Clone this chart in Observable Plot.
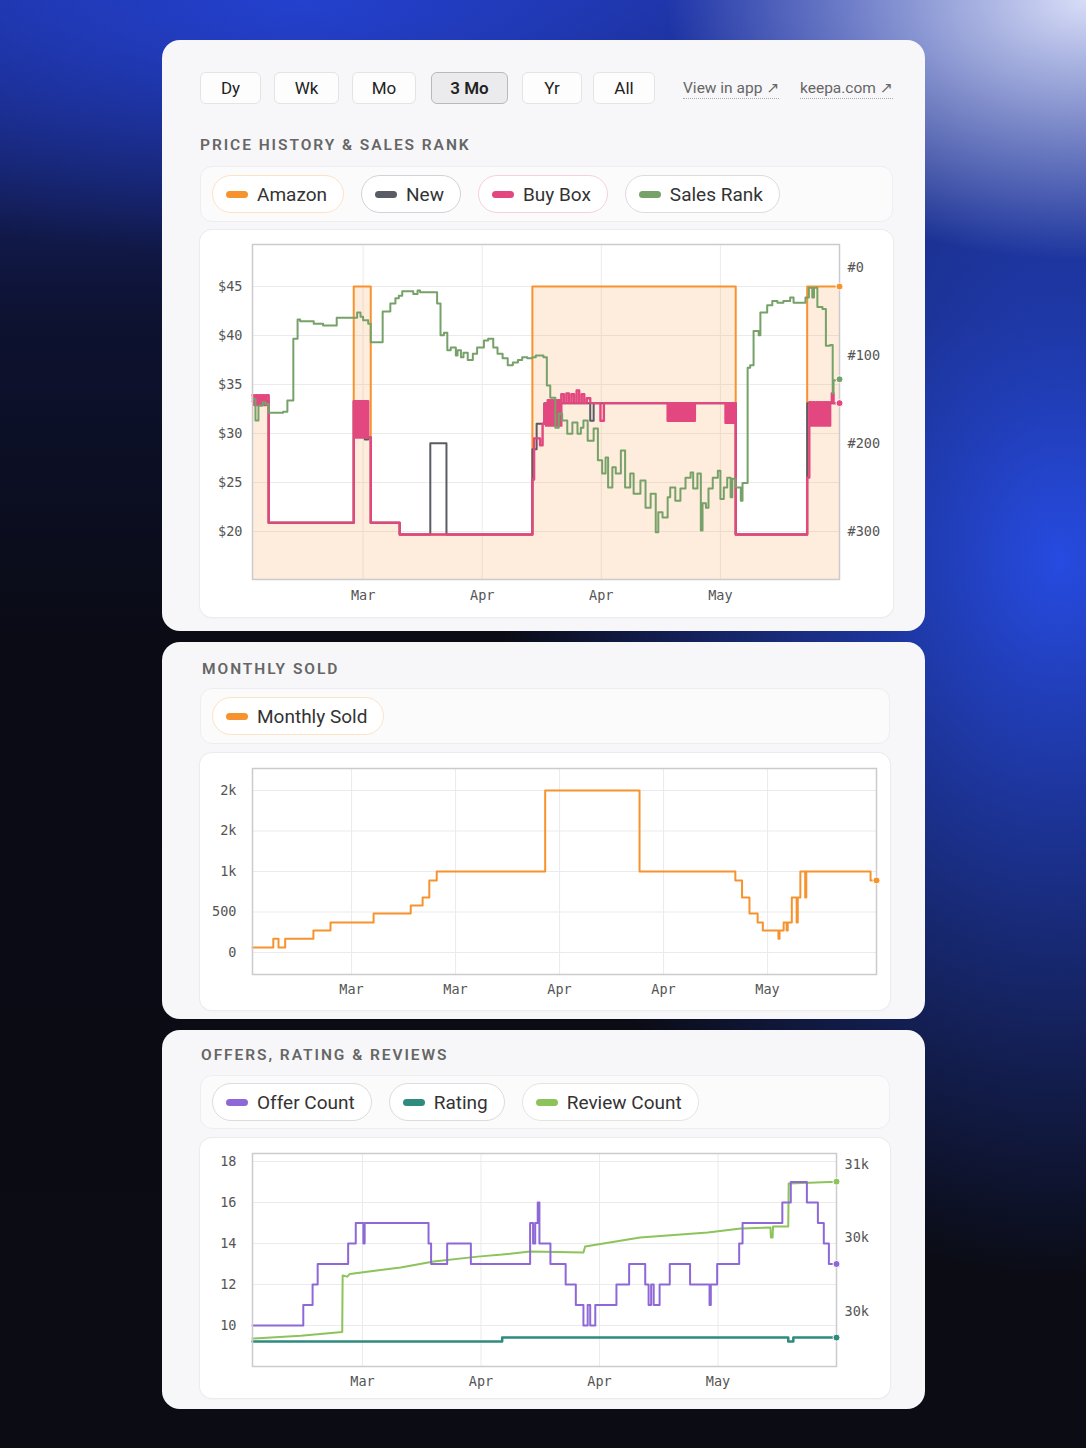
<!DOCTYPE html>
<html>
<head>
<meta charset="utf-8">
<script src="https://cdn.jsdelivr.net/npm/d3@7"></script>
<script src="https://cdn.jsdelivr.net/npm/@observablehq/plot@0.6"></script>
<style>
  html, body { margin: 0; padding: 0; }
  body {
    width: 1086px; height: 1448px; overflow: hidden; position: relative;
    font-family: Roboto, "Noto Sans", "DejaVu Sans", sans-serif;
    background:
      radial-gradient(ellipse 420px 260px at 1086px 0px, rgba(225,230,252,0.95), rgba(225,230,252,0) 100%),
      radial-gradient(ellipse 560px 720px at 1060px 560px, rgba(40,78,235,0.95), rgba(40,78,235,0) 100%),
      radial-gradient(ellipse 700px 260px at 300px 0px, rgba(36,66,210,0.95), rgba(36,66,210,0) 100%),
      linear-gradient(180deg, #1b2c8c 0%, #0d1230 22%, #0a0b14 45%, #0b0c14 100%);
  }
  .card { position: absolute; left: 162px; width: 763px; background: #f7f7f9; border-radius: 18px; }
  .btn {
    position: absolute; top: 32px; height: 32px; box-sizing: border-box;
    border: 1px solid #e4e4e8; border-radius: 6px; background: #fdfdfd;
    font-size: 17px; color: #222; display: flex; align-items: center; justify-content: center;
  }
  .btn.active { background: #ebebed; border: 1.5px solid #b8b8bd; font-weight: 600; }
  .link {
    position: absolute; top: 39px; font-size: 15.5px; color: #666;
    border-bottom: 1px dotted #aaa; line-height: 19px;
  }
  .title {
    position: absolute; left: 38px; font-size: 15.5px; font-weight: 600;
    letter-spacing: 1.95px; color: #666; line-height: 18px;
  }
  .legend {
    position: absolute; left: 38px; box-sizing: border-box;
    background: #fbfbfc; border: 1px solid #eeeef1; border-radius: 12px;
    display: flex; align-items: center; gap: 17px; padding-left: 11px;
  }
  .pill {
    height: 38px; box-sizing: border-box; border-radius: 19px; background: #fff;
    border: 1px solid #ddd; display: flex; align-items: center;
    padding: 0 16px 0 13px; font-size: 19px; color: #333;
  }
  .sw { width: 22px; height: 7px; border-radius: 4px; margin-right: 9px; }
  .chartbox {
    position: absolute; left: 38px; background: #fff; border-radius: 12px;
    box-shadow: 0 0 0 1px #ececef, 0 1px 3px rgba(0,0,0,0.04);
  }
  .chartbox svg { position: absolute; left: 0; top: 0; }
</style>
</head>
<body>

<div class="card" style="top:40px;height:591px;">
  <div class="btn" style="left:38px;width:61px;">Dy</div>
  <div class="btn" style="left:112px;width:65px;">Wk</div>
  <div class="btn" style="left:190px;width:64px;">Mo</div>
  <div class="btn active" style="left:269px;width:77px;">3 Mo</div>
  <div class="btn" style="left:360px;width:60px;">Yr</div>
  <div class="btn" style="left:431px;width:62px;">All</div>
  <div class="link" style="left:521px;">View in app ↗</div>
  <div class="link" style="left:638px;">keepa.com ↗</div>
  <div class="title" style="top:96px;">PRICE HISTORY &amp; SALES RANK</div>
  <div class="legend" id="legend1" style="top:126px;width:693px;height:56px;"></div>
  <div class="chartbox" id="chart1" style="top:190px;width:693px;height:387px;"></div>
</div>

<div class="card" style="top:642px;height:377px;">
  <div class="title" style="top:18px;left:40px;">MONTHLY SOLD</div>
  <div class="legend" id="legend2" style="top:46px;width:690px;height:56px;"></div>
  <div class="chartbox" id="chart2" style="top:111px;width:690px;height:257px;"></div>
</div>

<div class="card" style="top:1030px;height:379px;">
  <div class="title" style="top:16px;left:39px;">OFFERS, RATING &amp; REVIEWS</div>
  <div class="legend" id="legend3" style="top:45px;width:690px;height:54px;"></div>
  <div class="chartbox" id="chart3" style="top:108px;width:690px;height:260px;"></div>
</div>

<script>
// ---------- series colours ----------
const colors = {
  amazon: "#f7932f", newOffer: "#595c64", buyBox: "#e2477f", salesRank: "#76a169",
  monthlySold: "#f7932f", offerCount: "#8f68d8", rating: "#2f8b7d", reviewCount: "#8dc35b"
};

// ---------- price history & sales rank (days since 16 Mar) ----------
const priceStart = Date.UTC(2024, 2, 16);
const priceDays = 69;
const priceTicks = [20, 25, 30, 35, 40, 45];
const rankTicks = [0, 100, 200, 300];
const priceDateTicks = ["2024-03-29", "2024-04-12", "2024-04-26", "2024-05-10"];

const amazonPrice = [[0,33.7],[1.9,20.9],[11.9,45],[13.9,20.9],[17.3,19.7],[32.9,45],[56.8,19.7],[65.2,45],[69,45]];

const newPrice = [[0,33.3],[1.9,20.9],[11.9,33.3],[13.2,29.4],[13.6,29.6],[13.9,20.9],[17.3,19.7],[20.9,29.0],[22.8,19.7],
  [32.9,28.4],[33.4,31.0],[34.3,33.1],[39.7,31.3],[40.1,33.1],
  [48.9,32.4],[49.2,33.1],[56.8,19.7],[65.2,33.1],[69,33.1]];

const buyBoxPrice = [
  [0,33.9],[0.2,32.9],[0.4,33.9],[0.6,32.9],[0.8,33.9],[1.0,33.0],[1.2,33.9],[1.4,32.9],[1.6,33.9],[1.9,20.9],
  [11.9,33.3],[12.1,29.6],[12.3,33.3],[12.5,29.6],[12.7,33.3],[12.9,29.6],[13.1,33.3],[13.25,29.6],[13.4,33.3],[13.6,29.6],[13.9,20.9],
  [17.3,19.7],
  [32.9,25.3],[33.1,29.5],[33.8,28.8],[34.1,31.0],[34.3,33.0],
  [34.5,30.8],[34.7,33.4],[34.9,30.8],[35.1,33.4],[35.3,30.8],[35.5,33.4],[35.7,30.8],[35.9,33.4],[36.1,30.8],
  [36.3,34.0],[36.6,33.1],[36.9,34.1],[37.2,33.1],[37.5,34.0],[37.8,33.1],[38.1,34.4],[38.4,33.1],[38.7,34.0],[39.0,33.1],[39.3,33.6],[39.7,33.1],
  [40.9,31.3],[41.3,33.1],
  [48.8,31.3],[49.0,33.1],[49.2,31.3],[49.4,33.1],[49.6,31.3],[49.8,33.1],[50.0,31.3],[50.2,33.1],[50.4,31.3],[50.6,33.1],
  [50.8,31.3],[51.0,33.1],[51.2,31.3],[51.4,33.1],[51.6,31.3],[51.8,33.1],[51.9,31.3],[52.0,33.1],
  [55.6,31.1],[55.8,33.1],[56.0,31.1],[56.2,33.1],[56.4,31.1],[56.6,33.1],[56.8,19.7],
  [65.2,25.5],[65.45,33.2],[65.7,30.8],[65.9,33.2],[66.1,30.8],[66.3,33.2],[66.5,30.8],[66.7,33.2],[66.9,30.8],[67.1,33.2],[67.3,30.8],[67.5,33.2],[67.7,30.8],[67.9,33.2],
  [68.1,34.1],[68.3,33.1],[69,33.1]
];

const salesRank = [
  [0,149],[0.35,174],[0.7,157],[1.2,153],[1.5,155],[1.9,165],[3.6,164],[4.1,151],[4.8,81],[5.3,59],[5.6,61],[7.2,64],[8.3,66],
  [9.9,57],[12.3,51],[12.7,56],[13.0,60],[13.6,64],[13.9,85],[15.3,50],[16.2,41],[16.8,35],[17.2,32],[17.6,27],[18.9,30],
  [19.4,26],[19.7,28],[21.7,41],[22.1,77],[22.5,74],[22.9,94],[23.3,91],[23.9,100],[24.1,94],[24.5,102],[24.8,97],[25.3,105],
  [25.9,98],[26.4,91],[27.2,83],[27.7,81],[28.3,91],[28.8,98],[29.4,103],[30.0,111],[30.6,108],[31.2,105],[31.7,102],[32.3,103],
  [32.9,102],[33.3,100],[34.2,102],[34.6,134],[35.0,148],[35.6,182],[36.0,166],[36.4,174],[37.0,189],[37.6,176],[38.2,189],
  [38.6,182],[38.9,174],[39.4,197],[40.1,183],[40.6,219],[41.1,234],[41.5,216],[41.8,250],[42.3,227],[42.7,234],[43.3,208],
  [43.8,250],[44.4,234],[44.8,257],[45.6,242],[46.2,273],[46.8,257],[47.4,301],[47.7,278],[48.2,284],[48.8,261],[49.1,250],
  [49.7,265],[50.3,251],[50.9,239],[51.5,233],[51.8,251],[52.3,234],[52.7,299],[52.9,268],[53.3,273],[53.6,251],[54.1,239],
  [54.7,231],[55.0,263],[55.4,250],[55.8,239],[56.2,261],[56.4,240],[56.8,250],[57.4,265],[57.6,245],[58.2,114],[58.5,111],
  [58.9,72],[59.5,77],[59.7,51],[60.5,43],[61.1,38],[61.7,40],[62.4,38],[63.2,34],[63.6,40],[65.0,34],[65.4,23],[65.8,34],
  [66.0,23],[66.4,45],[67.0,47],[67.4,89],[67.9,88],[68.2,143],[68.3,128],[69,127]
];

// ---------- monthly sold (days since 1 Mar, 16:00) ----------
const soldStart = Date.UTC(2024, 2, 1, 16);
const soldDays = 84;
const soldTicks = [0, 500, 1000, 1500, 2000];
const soldTickLabels = ["0", "500", "1k", "2k", "2k"];
const soldDateTicks = ["2024-03-15", "2024-03-29", "2024-04-12", "2024-04-26", "2024-05-10"];
const monthlySold = [[0,60],[2.8,170],[3.5,60],[4.4,170],[8.2,270],[10.5,370],[16.3,480],[21.3,580],[22.9,680],[23.8,890],
  [24.8,1000],[39.4,2000],[52.1,1000],[65.0,890],[65.9,680],[66.9,480],[68.0,370],[68.7,270],[70.8,170],[70.95,270],
  [71.5,370],[71.9,270],[72.05,370],[72.6,680],[73.25,370],[73.4,680],[73.75,1000],[74.4,680],[74.55,1000],[83.2,890],[84,890]];

// ---------- offers, rating & reviews (days since 16 Mar) ----------
const offerTicks = [10, 12, 14, 16, 18];
const reviewTicks = [30000, 30400, 30800];
const reviewTickLabels = ["30k", "30k", "31k"];
const offerCount = [[0,10],[6.0,11],[7.1,12],[7.7,13],[11.3,14],[12.2,15],[13.1,14],[13.25,15],[20.8,14],[21.1,13],[23.0,14],
  [25.8,13],[32.8,15],[33.15,14],[33.4,15],[33.7,16],[33.9,14],[35.2,13],[37.0,12],[38.2,11],[39.1,10],[39.6,11],[39.9,10],
  [40.5,11],[43.0,12],[44.5,13],[46.4,12],[46.8,11],[47.1,12],[47.4,11],[48.1,12],[49.3,13],[51.7,12],[54.0,11],[54.15,12],
  [54.9,13],[57.5,14],[57.9,15],[62.6,16],[63.6,17],[65.5,16],[66.8,15],[67.5,14],[68.1,13],[69,13]];
const rating = [[0,4.5],[29.5,4.6],[63.3,4.5],[63.9,4.6],[69,4.6]];
const reviewCount = [[0,29853],[5.7,29868],[10.6,29889],[10.65,30196],[11.2,30190],[11.5,30205],[17.5,30240],[21.4,30272],
  [26.6,30299],[29.5,30310],[32.8,30327],[39.1,30321],[39.3,30354],[45.8,30403],[53.8,30430],[57.7,30452],[61.2,30457],
  [61.25,30403],[61.45,30403],[61.5,30463],[63.3,30463],[63.35,30697],[69,30707]];

// ---------- helpers ----------
const DAY = 864e5;
const rows = (start, pairs) => pairs.map(([d, v]) => ({date: new Date(start + d * DAY), value: v}));
const last = (a) => [a[a.length - 1]];
const monthFmt = d3.utcFormat("%b");
const parseDates = (a) => a.map(s => new Date(s + "T00:00:00Z"));
const axisStyle = {fontFamily: "'DejaVu Sans Mono', monospace", fontSize: "13.5px", color: "#555", background: "transparent", overflow: "visible"};
const grid = {stroke: "#ebebed", strokeOpacity: 1};

function legend(id, items) {
  const el = document.getElementById(id);
  for (const [label, color, border] of items) {
    const p = document.createElement("div");
    p.className = "pill";
    p.style.borderColor = border;
    p.innerHTML = `<span class="sw" style="background:${color}"></span>${label}`;
    el.appendChild(p);
  }
}
legend("legend1", [["Amazon", colors.amazon, "#fde3c6"], ["New", colors.newOffer, "#d3d3d7"],
  ["Buy Box", colors.buyBox, "#f6d0de"], ["Sales Rank", colors.salesRank, "#dcdcde"]]);
legend("legend2", [["Monthly Sold", colors.monthlySold, "#fde3c6"]]);
legend("legend3", [["Offer Count", colors.offerCount, "#dcdcde"], ["Rating", colors.rating, "#dcdcde"],
  ["Review Count", colors.reviewCount, "#e4e6de"]]);

// ---------- chart 1: price history & sales rank ----------
{
  const yMin = 15.1, yMax = 49.29;
  const rankToPrice = d3.scaleLinear().domain([0, 300]).range([46.94, 20.0]);
  const amazon = rows(priceStart, amazonPrice);
  const newer = rows(priceStart, newPrice);
  const buyBox = rows(priceStart, buyBoxPrice);
  const rank = rows(priceStart, salesRank).map(d => ({date: d.date, value: rankToPrice(d.value)}));
  const rankPos = rankTicks.map(rankToPrice);
  const xTicks = parseDates(priceDateTicks);
  const chart = Plot.plot({
    width: 693, height: 387, marginLeft: 52, marginRight: 54, marginTop: 14, marginBottom: 38,
    style: axisStyle,
    x: {type: "utc", domain: [new Date(priceStart), new Date(priceStart + priceDays * DAY)]},
    y: {domain: [yMin, yMax]},
    marks: [
      Plot.gridY(priceTicks, grid),
      Plot.gridX(xTicks, grid),
      Plot.areaY(amazon, {x: "date", y1: yMin, y2: "value", curve: "step-after", fill: colors.amazon, fillOpacity: 0.17}),
      Plot.lineY(amazon, {x: "date", y: "value", curve: "step-after", stroke: colors.amazon, strokeWidth: 2}),
      Plot.lineY(newer, {x: "date", y: "value", curve: "step-after", stroke: colors.newOffer, strokeWidth: 2}),
      Plot.lineY(buyBox, {x: "date", y: "value", curve: "step-after", stroke: colors.buyBox, strokeWidth: 2.4}),
      Plot.lineY(rank, {x: "date", y: "value", curve: "step-after", stroke: colors.salesRank, strokeWidth: 2}),
      Plot.frame({stroke: "#cbcbcf", strokeWidth: 1.5}),
      Plot.dot(last(amazon), {x: "date", y: "value", r: 3.5, fill: colors.amazon, stroke: "#fff", strokeWidth: 1}),
      Plot.dot(last(buyBox), {x: "date", y: "value", r: 3.5, fill: colors.buyBox, stroke: "#fff", strokeWidth: 1}),
      Plot.dot(last(rank), {x: "date", y: "value", r: 3.5, fill: colors.salesRank, stroke: "#fff", strokeWidth: 1}),
      Plot.axisY(priceTicks, {anchor: "left", tickSize: 0, tickPadding: 10, label: null, tickFormat: d => "$" + d}),
      Plot.axisY(rankPos, {anchor: "right", tickSize: 0, tickPadding: 8, label: null,
        tickFormat: d => "#" + rankTicks[d3.minIndex(rankPos, p => Math.abs(p - d))]}),
      Plot.axisX(xTicks, {tickSize: 0, tickPadding: 11, label: null, tickFormat: monthFmt})
    ]
  });
  document.getElementById("chart1").appendChild(chart);
}

// ---------- chart 2: monthly sold ----------
{
  const sold = rows(soldStart, monthlySold);
  const xTicks = parseDates(soldDateTicks);
  const chart = Plot.plot({
    width: 690, height: 257, marginLeft: 52, marginRight: 14, marginTop: 15, marginBottom: 36,
    style: axisStyle,
    x: {type: "utc", domain: [new Date(soldStart), new Date(soldStart + soldDays * DAY)]},
    y: {domain: [-272, 2272]},
    marks: [
      Plot.gridY(soldTicks, grid),
      Plot.gridX(xTicks, grid),
      Plot.lineY(sold, {x: "date", y: "value", curve: "step-after", stroke: colors.monthlySold, strokeWidth: 2}),
      Plot.frame({stroke: "#cbcbcf", strokeWidth: 1.5}),
      Plot.dot(last(sold), {x: "date", y: "value", r: 3.5, fill: colors.monthlySold, stroke: "#fff", strokeWidth: 1}),
      Plot.axisY(soldTicks, {anchor: "left", tickSize: 0, tickPadding: 16, label: null,
        tickFormat: d => soldTickLabels[soldTicks.indexOf(d)]}),
      Plot.axisX(xTicks, {tickSize: 0, tickPadding: 10, label: null, tickFormat: monthFmt})
    ]
  });
  document.getElementById("chart2").appendChild(chart);
}

// ---------- chart 3: offers, rating & reviews ----------
{
  const reviewToOffer = d3.scaleLinear().domain([30000, 30800]).range([10.68, 17.85]);
  const ratingToOffer = d3.scaleLinear().domain([4.5, 4.6]).range([9.22, 9.41]);
  const offers = rows(priceStart, offerCount);
  const ratings = rows(priceStart, rating).map(d => ({date: d.date, value: ratingToOffer(d.value)}));
  const reviews = rows(priceStart, reviewCount).map(d => ({date: d.date, value: reviewToOffer(d.value)}));
  const reviewPos = reviewTicks.map(reviewToOffer);
  const xTicks = parseDates(priceDateTicks);
  const chart = Plot.plot({
    width: 690, height: 260, marginLeft: 52, marginRight: 54, marginTop: 15, marginBottom: 32,
    style: axisStyle,
    x: {type: "utc", domain: [new Date(priceStart), new Date(priceStart + priceDays * DAY)]},
    y: {domain: [8.0, 18.39]},
    marks: [
      Plot.gridY(offerTicks, grid),
      Plot.gridX(xTicks, grid),
      Plot.lineY(ratings, {x: "date", y: "value", curve: "step-after", stroke: colors.rating, strokeWidth: 2.5}),
      Plot.lineY(reviews, {x: "date", y: "value", curve: "linear", stroke: colors.reviewCount, strokeWidth: 2}),
      Plot.lineY(offers, {x: "date", y: "value", curve: "step-after", stroke: colors.offerCount, strokeWidth: 2}),
      Plot.frame({stroke: "#cbcbcf", strokeWidth: 1.5}),
      Plot.dot(last(reviews), {x: "date", y: "value", r: 3.5, fill: colors.reviewCount, stroke: "#fff", strokeWidth: 1}),
      Plot.dot(last(offers), {x: "date", y: "value", r: 3.5, fill: colors.offerCount, stroke: "#fff", strokeWidth: 1}),
      Plot.dot(last(ratings), {x: "date", y: "value", r: 3.5, fill: colors.rating, stroke: "#fff", strokeWidth: 1}),
      Plot.axisY(offerTicks, {anchor: "left", tickSize: 0, tickPadding: 16, label: null}),
      Plot.axisY(reviewPos, {anchor: "right", tickSize: 0, tickPadding: 8, label: null,
        tickFormat: d => reviewTickLabels[d3.minIndex(reviewPos, p => Math.abs(p - d))]}),
      Plot.axisX(xTicks, {tickSize: 0, tickPadding: 10, label: null, tickFormat: monthFmt})
    ]
  });
  document.getElementById("chart3").appendChild(chart);
}
</script>
</body>
</html>
